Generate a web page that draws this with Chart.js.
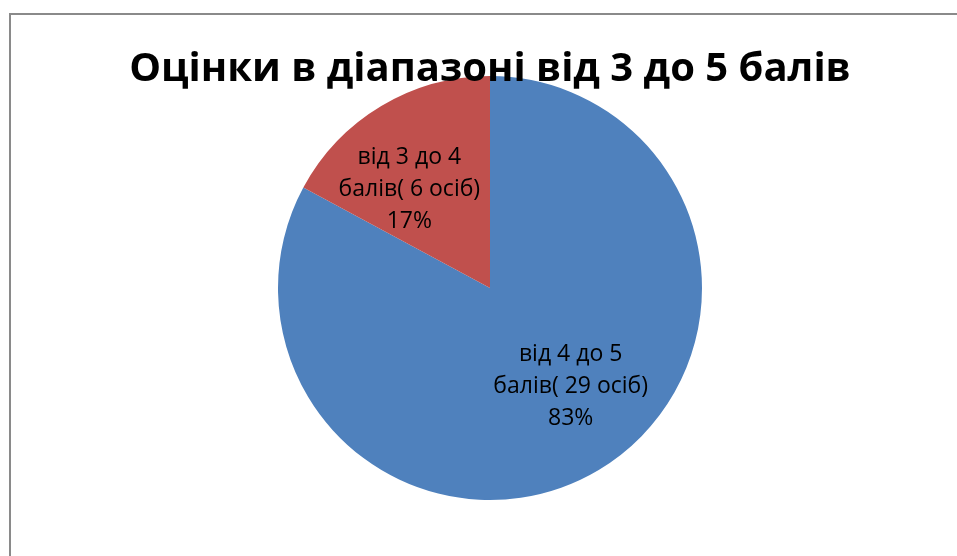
<!DOCTYPE html>
<html>
<head>
<meta charset="utf-8">
<script src="https://cdn.jsdelivr.net/npm/chart.js@4/dist/chart.umd.min.js"></script>
<style>
  html, body { margin: 0; padding: 0; background: #fff; overflow: hidden; }
  #wrap { position: relative; width: 957px; height: 556px; }
  #frame { position: absolute; left: 9px; top: 13px; width: 1000px; height: 600px;
           border-left: 2px solid #8a8a8a; border-top: 2px solid #8a8a8a; }
  canvas { position: absolute; left: 0; top: 0; }
</style>
</head>
<body>
<div id="wrap">
  <div id="frame"></div>
  <canvas id="c" width="957" height="556"></canvas>
</div>
<script>
const chartTitle = 'Оцінки в діапазоні від 3 до 5 балів';
const categories = [['від 4 до 5', 'балів( 29 осіб)'], ['від 3 до 4', 'балів( 6 осіб)']];
const counts = [29, 6];
const sliceColors = ['#4F81BD', '#C0504D'];

const total = counts.reduce((a, b) => a + b, 0);

// Title and in-slice labels drawn on top of the pie
const labelPlugin = {
  id: 'sliceLabels',
  afterDraw(chart) {
    const ctx = chart.ctx;
    ctx.save();
    ctx.fillStyle = '#000';
    ctx.textAlign = 'center';
    ctx.textBaseline = 'alphabetic';
    ctx.font = 'bold 40px "Open Sans", sans-serif';
    ctx.fillText(chartTitle, 490, 81);

    ctx.font = '23px "Open Sans", sans-serif';
    ctx.textBaseline = 'middle';
    const meta = chart.getDatasetMeta(0);
    const angleShift = -8.5 * Math.PI / 180;
    meta.data.forEach((arc, i) => {
      const p = arc.getProps(['x', 'y', 'startAngle', 'endAngle', 'outerRadius']);
      const mid = (p.startAngle + p.endAngle) / 2 + angleShift;
      const r = p.outerRadius * 0.6;
      const cx = p.x + Math.cos(mid) * r;
      const cy = p.y + Math.sin(mid) * r;
      const pct = Math.round(counts[i] / total * 100) + '%';
      const lines = categories[i].concat([pct]);
      const lh = 32;
      lines.forEach((t, k) => {
        ctx.fillText(t, cx, cy + (k - (lines.length - 1) / 2) * lh);
      });
    });
    ctx.restore();
  }
};

new Chart(document.getElementById('c'), {
  type: 'pie',
  data: {
    labels: categories.map(c => c.join(' ')),
    datasets: [{
      data: counts,
      backgroundColor: sliceColors,
      borderWidth: 0
    }]
  },
  options: {
    responsive: false,
    animation: false,
    layout: { padding: { left: 278, right: 255, top: 76, bottom: 56 } },
    plugins: {
      legend: { display: false },
      tooltip: { enabled: false },
      title: { display: false }
    }
  },
  plugins: [labelPlugin]
});
</script>
</body>
</html>
